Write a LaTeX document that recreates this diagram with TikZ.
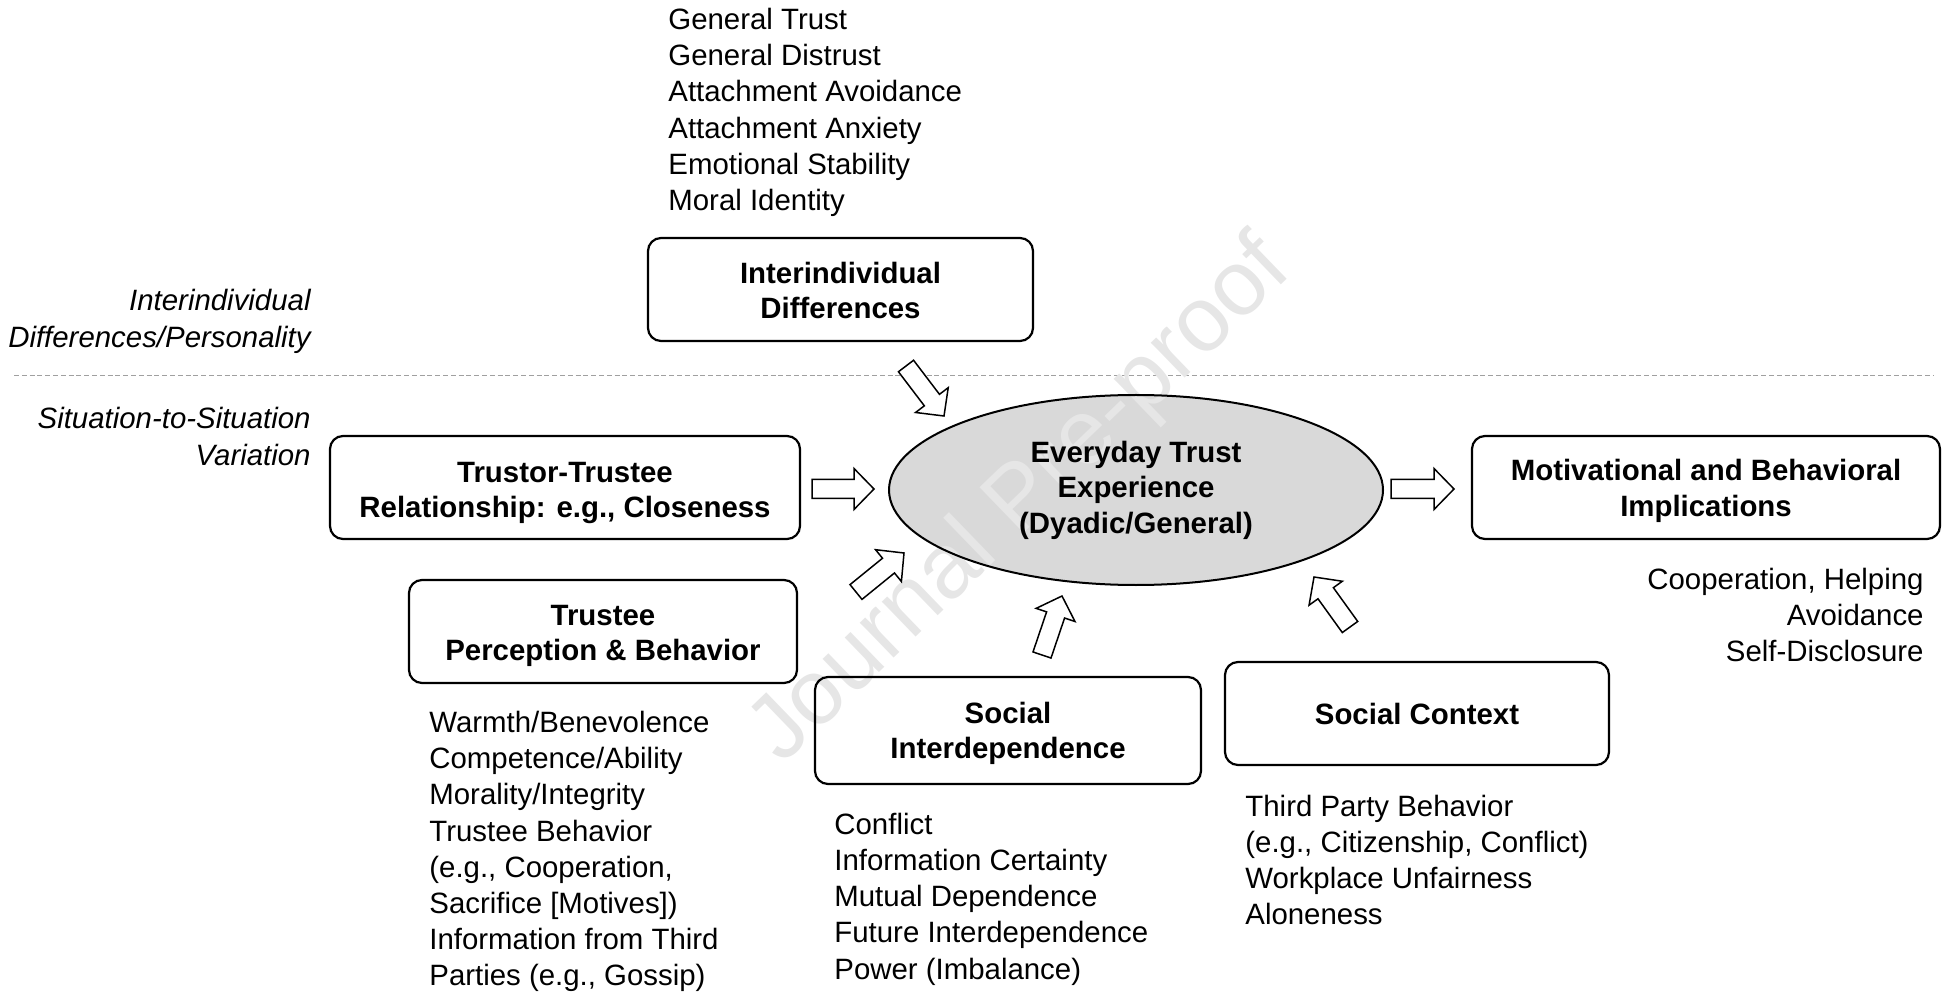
\documentclass[tikz,border=0pt]{standalone}
\usepackage{fontspec}
\setmainfont{Liberation Sans}
\usetikzlibrary{calc,shapes.geometric}
\definecolor{ellfill}{HTML}{D9D9D9}
\definecolor{dashgray}{HTML}{A0A0A0}
\definecolor{wmgray}{HTML}{E6E6E6}
\newcommand\blockarrow[2]{%
  \coordinate (ba-b) at ($(#2)!10pt!(#1)$);
  \draw[barrow] ($(#1)!4.75pt!90:(#2)$) -- ($(ba-b)!4.75pt!-90:(#1)$)
    -- ($(ba-b)!10.25pt!-90:(#1)$) -- (#2) -- ($(ba-b)!10.25pt!90:(#1)$)
    -- ($(ba-b)!4.75pt!90:(#1)$) -- ($(#1)!4.75pt!-90:(#2)$) -- cycle;}
\newcommand\tstrut[1]{\rule{0pt}{#1}}
\begin{document}
\begin{tikzpicture}[x=0.5pt,y=-0.5pt,
  every node/.style={inner sep=0pt, font=\fontsize{14.7}{18.1}\selectfont},
  box/.style={draw, line width=1.1pt, rounded corners=6.5pt, align=center,
    font=\fontsize{14.7}{17.8}\selectfont\bfseries},
  list/.style={align=left, anchor=west},
  rlist/.style={align=right, anchor=east},
  side/.style={align=right, anchor=east, font=\fontsize{14.7}{18.5}\selectfont\itshape},
  barrow/.style={draw, fill=white, line width=0.75pt, line join=miter},
  dashline/.style={draw=dashgray, line width=0.5pt, dash pattern=on 2.5pt off 1.4pt},
  ellshape/.style={ellipse, minimum width=247pt, minimum height=95pt},
]
\useasboundingbox (0,0) rectangle (1944,994);

% dashed separator
\coordinate (dl1) at (14,376);
\coordinate (dl2) at (1934,376);
\draw[dashline] (dl1) -- (dl2);

% side labels
\node[side] (lab1) at (311,321.5) {Interindividual\\Differences/Personality};
\node[side] (lab2) at (311,436) {Situation-to-Situation\\Variation};

% central ellipse fill
\node[ellshape, fill=ellfill] (trustfill) at (1136,490) {};

% watermark
\node[rotate=44, text=wmgray, font=\fontsize{46}{46}\selectfont] (wm) at (1022,502) {Journal Pre-proof};

% central ellipse outline and text
\node[ellshape, draw, line width=1pt, align=center,
  font=\fontsize{14.7}{17.7}\selectfont\bfseries] (trust) at (1136,490)
  {Everyday Trust\\Experience\\(Dyadic/General)};

% boxes
\node[box, minimum width=192.5pt, minimum height=51.5pt] (inter) at (840.5,289.5)
  {\tstrut{11.5pt}Interindividual\\Differences};
\node[box, minimum width=235pt, minimum height=51.5pt] (trustor) at (565,487.5)
  {\tstrut{15.7pt}Trustor-Trustee\\Relationship: e.g., Closeness};
\node[box, minimum width=234pt, minimum height=51.5pt] (motiv) at (1706,487.5)
  {\tstrut{14.2pt}Motivational and Behavioral\\Implications};
\node[box, minimum width=194pt, minimum height=51.5pt] (trustee) at (603,631.5)
  {\tstrut{14.7pt}Trustee\\Perception \& Behavior};
\node[box, minimum width=193pt, minimum height=53.5pt] (socint) at (1008,730.5)
  {\tstrut{13.7pt}Social\\Interdependence};
\node[box, minimum width=192pt, minimum height=51.5pt] (socctx) at (1417,713.5)
  {Social Context};

% lists
\node[list] (toplist) at (668,112.5)
  {General Trust\\General Distrust\\Attachment Avoidance\\Attachment Anxiety\\Emotional Stability\\Moral Identity};
\node[rlist] (motivlist) at (1924,615)
  {Cooperation, Helping\\Avoidance\\Self-Disclosure};
\node[list] (trusteelist) at (429,851.5)
  {Warmth/Benevolence\\Competence/Ability\\Morality/Integrity\\Trustee Behavior\\(e.g., Cooperation,\\Sacrifice [Motives])\\Information from Third\\Parties (e.g., Gossip)};
\node[list] (socintlist) at (834,899)
  {Conflict\\Information Certainty\\Mutual Dependence\\Future Interdependence\\Power (Imbalance)};
\node[list] (socctxlist) at (1245,860)
  {Third Party Behavior\\(e.g., Citizenship, Conflict)\\Workplace Unfairness\\Aloneness};

% block arrows
\coordinate (a1t) at (906,366);  \coordinate (a1h) at (944,416);
\coordinate (a2t) at (812,489);  \coordinate (a2h) at (874,489);
\coordinate (a3t) at (1391,489); \coordinate (a3h) at (1454,489);
\coordinate (a4t) at (856,592);  \coordinate (a4h) at (904,553);
\coordinate (a5t) at (1042,655); \coordinate (a5h) at (1062,596);
\coordinate (a6t) at (1350,627); \coordinate (a6h) at (1314,577);
\blockarrow{a1t}{a1h}
\blockarrow{a2t}{a2h}
\blockarrow{a3t}{a3h}
\blockarrow{a4t}{a4h}
\blockarrow{a5t}{a5h}
\blockarrow{a6t}{a6h}
\end{tikzpicture}
\end{document}
